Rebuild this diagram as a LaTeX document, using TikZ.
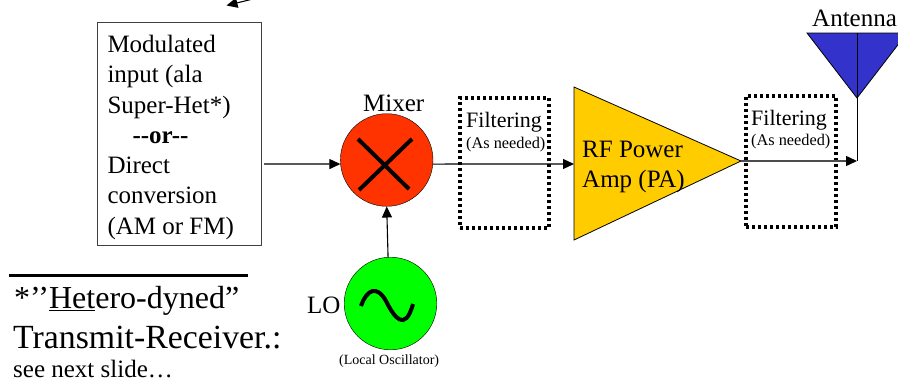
\documentclass[tikz,border=0pt]{standalone}
\usepackage{fontspec}
\setmainfont{Liberation Serif}
\usetikzlibrary{arrows.meta}
\definecolor{mixred}{HTML}{FF3300}
\definecolor{logreen}{HTML}{00FF00}
\definecolor{payellow}{HTML}{FFCC00}
\definecolor{antblue}{HTML}{3333CC}
\begin{document}
\begin{tikzpicture}[
  x=1pt, y=-1pt,
  txt/.style={anchor=base west, inner sep=0pt, font=\fontsize{25}{30.3}\selectfont},
  big/.style={anchor=base west, inner sep=0pt, font=\fontsize{32}{38}\selectfont},
  fil/.style={anchor=base west, inner sep=0pt, font=\fontsize{22}{26}\selectfont},
  tiny/.style={anchor=base west, inner sep=0pt, font=\fontsize{16.3}{18}\selectfont},
  filterbox/.style={draw, line width=1.1mm, dash pattern=on 3pt off 3pt, inner sep=0pt},
  sphere/.style={circle, draw, inner sep=0pt, minimum size=92.6pt},
  arr/.style={-{Triangle[length=11pt, width=10pt]}, line width=1.1pt},
  sym/.style={line width=4pt},
]
\useasboundingbox (0,0) rectangle (898,383);
% Input box
\node[draw=black!75, line width=0.9pt, minimum width=164pt, minimum height=223pt,
      inner sep=0pt, align=flush left, text width=143pt, font=\fontsize{25}{30.3}\selectfont] (input) at (179,133.5) {
  \rule{0pt}{25pt}Modulated\\
  input (ala\\
  Super-Het*)\\
  \hspace*{25pt}\textbf{{-}{-}or{-}{-}}\\
  Direct\\
  conversion\\
  (AM or FM)
};
\coordinate (inputout) at (264,164);
% Mixer
\node[sphere, fill=mixred] (mixer) at (386.7,160) {};
\node[txt] (mixerlbl) at (363,111) {Mixer};
\draw[sym] (358,139) -- (409,189);
\draw[sym] (412,139) -- (359,190);
% Local oscillator
\node[sphere, fill=logreen] (lo) at (390.5,303.5) {};
\node[txt] (lolbl) at (307,313) {LO};
\draw[sym] (361,306) .. controls (367,289) and (377,285) .. (386,301)
  .. controls (394,317) and (405,333) .. (413,304);
\node[tiny, font=\fontsize{14}{17}\selectfont] (lonote) at (339,364) {(Local Oscillator)};
% Filters
\node[filterbox, minimum width=89pt, minimum height=130pt] (filterA) at (504.5,163) {};
\node[fil] (filterAlbl) at (466,127) {Filtering};
\node[tiny] (filterAnote) at (466,148) {(As needed)};
\node[filterbox, minimum width=90pt, minimum height=131pt] (filterB) at (791,161.5) {};
\node[fil] (filterBlbl) at (751,125) {Filtering};
\node[tiny] (filterBnote) at (751,145) {(As needed)};
% Power amp
\coordinate (patop) at (574,87);
\coordinate (pabot) at (574,240);
\coordinate (patip) at (741,161);
\coordinate (pain) at (574,164);
\draw[fill=payellow, line width=0.8pt] (patop) -- (patip) -- (pabot) -- cycle;
\node[txt] (paone) at (582,157) {RF Power};
\node[txt] (patwo) at (582,187) {Amp (PA)};
% Antenna
\coordinate (anttop) at (857,33);
\coordinate (antfoot) at (857,161);
\draw[fill=antblue, line width=0.8pt] (807,33) -- (907,33) -- (857,98) -- cycle;
\draw[line width=1pt] (anttop) -- (antfoot);
\node[txt] (antlbl) at (812,26) {Antenna};
% Arrows
\draw[arr] (inputout) -- (mixer.185);
\draw[arr] (mixer.355) -- (pain);
\draw[arr] (lo.93) -- (mixer.270);
\draw[arr, line width=1.5pt, black!70, -{Triangle[length=11pt, width=10pt, black]}] (patip) -- (antfoot);
\coordinate (topfrom) at (257,-2);
\coordinate (topto) at (226.5,5.5);
\draw[arr] (topfrom) -- (topto);
% Footnote
\coordinate (rulea) at (9,275);
\coordinate (ruleb) at (248,275);
\draw[line width=3pt] (rulea) -- (ruleb);
\node[big] (hetero) at (14,308) {*’’\underline{Het}ero-dyned”};
\node[big, font=\fontsize{33.8}{38}\selectfont] (trans) at (13,348) {Transmit-Receiver.:};
\node[txt] (seenext) at (13,377.5) {see next slide…};
\end{tikzpicture}
\end{document}
